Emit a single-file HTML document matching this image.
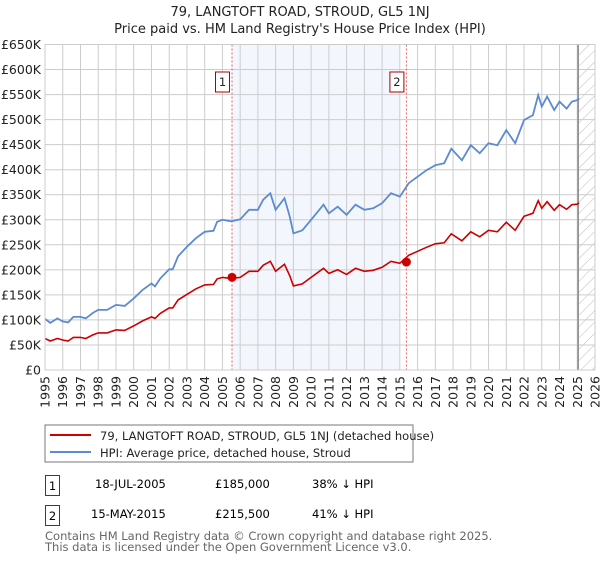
<!DOCTYPE html>
<html><head><meta charset="utf-8"><style>
body{margin:0;background:#fff;font-family:"Liberation Sans","DejaVu Sans",sans-serif;}
svg text{font-family:"DejaVu Sans","Liberation Sans",sans-serif;}
</style></head><body>
<svg id="c" width="600" height="560" xmlns="http://www.w3.org/2000/svg">
<defs><pattern id="hatch" width="8" height="8" patternUnits="userSpaceOnUse" patternTransform="rotate(45)"><line x1="0" y1="0" x2="0" y2="8" stroke="#bbb" stroke-width="1"/></pattern></defs>
<text x="300" y="16" text-anchor="middle" font-size="13" fill="#222">79, LANGTOFT ROAD, STROUD, GL5 1NJ</text>
<text x="300" y="33" text-anchor="middle" font-size="13" fill="#222">Price paid vs. HM Land Registry's House Price Index (HPI)</text>
<g id="plot"></g>
<rect x="45" y="425" width="368" height="37" fill="#fff" stroke="#777"/>
<line x1="50" y1="435" x2="91" y2="435" stroke="#cc0000" stroke-width="2"/>
<text x="100" y="440" font-size="11.5" fill="#222">79, LANGTOFT ROAD, STROUD, GL5 1NJ (detached house)</text>
<line x1="50" y1="452" x2="91" y2="452" stroke="#5b8bd0" stroke-width="2"/>
<text x="100" y="457" font-size="11.5" fill="#222">HPI: Average price, detached house, Stroud</text>
<g>
<rect x="45.5" y="475.5" width="14" height="20" fill="#fff" stroke="#cc0000"/>
<text x="52.5" y="490" text-anchor="middle" font-size="11.5">1</text>
<text x="95" y="488" font-size="11.5">18-JUL-2005</text>
<text x="215" y="488" font-size="11.5">£185,000</text>
<text x="312" y="488" font-size="11.5">38% ↓ HPI</text></g>
<g>
<rect x="45.5" y="505.5" width="14" height="20" fill="#fff" stroke="#cc0000"/>
<text x="52.5" y="520" text-anchor="middle" font-size="11.5">2</text>
<text x="91" y="518" font-size="11.5">15-MAY-2015</text>
<text x="215" y="518" font-size="11.5">£215,500</text>
<text x="312" y="518" font-size="11.5">41% ↓ HPI</text></g>
<text x="45" y="540" font-size="11.5" fill="#666">Contains HM Land Registry data © Crown copyright and database right 2025.</text>
<text x="45" y="551" font-size="11.5" fill="#666">This data is licensed under the Open Government Licence v3.0.</text>
</svg>
<script>
const years=[1995,1995.3,1995.7,1996,1996.3,1996.6,1997,1997.3,1997.7,1998,1998.5,1999,1999.5,2000,2000.5,2001,2001.2,2001.5,2002,2002.2,2002.5,2003,2003.5,2004,2004.5,2004.7,2005,2005.5,2006,2006.5,2007,2007.3,2007.7,2008,2008.5,2008.8,2009,2009.5,2010,2010.7,2011,2011.5,2012,2012.5,2013,2013.5,2014,2014.5,2015,2015.5,2016,2016.5,2017,2017.5,2017.9,2018.5,2019,2019.5,2020,2020.5,2021,2021.5,2022,2022.5,2022.8,2023,2023.3,2023.7,2024,2024.4,2024.7,2025,2025.1];
const hpi=[102,94,103,97,95,106,106,103,114,120,120,130,128,143,160,173,167,183,201,201,227,246,263,276,278,296,300,297,301,320,320,340,353,320,343,306,273,279,300,330,313,326,310,330,320,323,333,353,346,373,386,399,409,413,442,419,449,433,453,449,479,453,499,509,549,526,546,519,536,522,536,539,543];
const price=[63,58,63,60,58,65,65,63,70,74,74,80,79,88,98,106,103,113,124,124,140,151,162,170,171,182,185,183,185,197,197,209,217,197,211,188,168,172,185,203,193,200,191,203,197,199,205,217,213,229,237,245,252,254,272,258,276,266,279,276,295,279,307,313,338,323,336,319,330,321,330,331,334];
const yTicks=[0,50,100,150,200,250,300,350,400,450,500,550,600,650];
const yTickLabels=["£0","£50K","£100K","£150K","£200K","£250K","£300K","£350K","£400K","£450K","£500K","£550K","£600K","£650K"];
const xTicks=[1995,1996,1997,1998,1999,2000,2001,2002,2003,2004,2005,2006,2007,2008,2009,2010,2011,2012,2013,2014,2015,2016,2017,2018,2019,2020,2021,2022,2023,2024,2025,2026];
const saleYears=[2005.54,2015.37];
const salePrices=[185,215.5];
const saleLabels=["1","2"];
const X0=45,X1=595,Y0=370,Y1=44.5;
const xs=v=>X0+(v-1995)/(2026-1995)*(X1-X0);
const ys=v=>Y0-v/650*(Y0-Y1);
const g=document.getElementById('plot');
const NS='http://www.w3.org/2000/svg';
function mk(t,a){const e=document.createElementNS(NS,t);for(const k in a)e.setAttribute(k,a[k]);g.appendChild(e);return e;}
let e;
e=mk('rect',{x:xs(saleYears[0]),y:Y1,width:xs(2015)-xs(saleYears[0]),height:Y0-Y1,fill:'#eef3fc',opacity:0.7});


e=mk('rect',{x:xs(2025.05),y:Y1,width:X1-xs(2025.05),height:Y0-Y1,fill:'url(#hatch)'});


yTicks.forEach((v,i)=>{
 e=mk('line',{x1:X0,x2:X1,y1:ys(v),y2:ys(v),stroke:'#ccc','stroke-width':1});
 
 
 e=mk('text',{x:41,y:ys(v)+4.5,'text-anchor':'end','font-size':12.5,fill:'#222'});e.textContent=yTickLabels[i];
 
 
});
xTicks.forEach(v=>{
 e=mk('line',{x1:xs(v),x2:xs(v),y1:Y1,y2:Y0,stroke:'#ccc','stroke-width':1});
 
 
 const tx=xs(v)+4.5, ty=376;
 e=mk('text',{x:tx,y:ty,'text-anchor':'end','font-size':12.5,fill:'#222',transform:'rotate(-90 '+tx+' '+ty+')'});e.textContent=v;
 
 
});
e=mk('line',{x1:xs(2025.05),x2:xs(2025.05),y1:Y1,y2:Y0,stroke:'#888','stroke-width':1.5});


saleYears.forEach((v,i)=>{
 e=mk('line',{x1:xs(v),x2:xs(v),y1:Y1,y2:Y0,stroke:'#e06060','stroke-width':1,'stroke-dasharray':'2,2'});
 
 
});
const pts=a=>a.map((v,i)=>xs(years[i]).toFixed(1)+','+ys(v).toFixed(1)).join(' ');
e=mk('polyline',{points:pts(hpi),fill:'none',stroke:'#5b8bd0','stroke-width':1.8});


e=mk('polyline',{points:pts(price),fill:'none',stroke:'#cc0000','stroke-width':1.6});


saleYears.forEach((v,i)=>{
 e=mk('circle',{cx:xs(v),cy:ys(salePrices[i]),r:4.5,fill:'#cc0000'});
 
 
 e=mk('rect',{x:xs(v)-16.5,y:72,width:14,height:20,fill:'#fff',stroke:'#aa0000'});
 
 
 e=mk('text',{x:xs(v)-9.5,y:86,'text-anchor':'middle','font-size':11.5,fill:'#222'});e.textContent=saleLabels[i];
 
 
});
e=mk('rect',{x:X0,y:Y1,width:X1-X0,height:Y0-Y1,fill:'none',stroke:'#ccc'});


</script>
</body></html>
